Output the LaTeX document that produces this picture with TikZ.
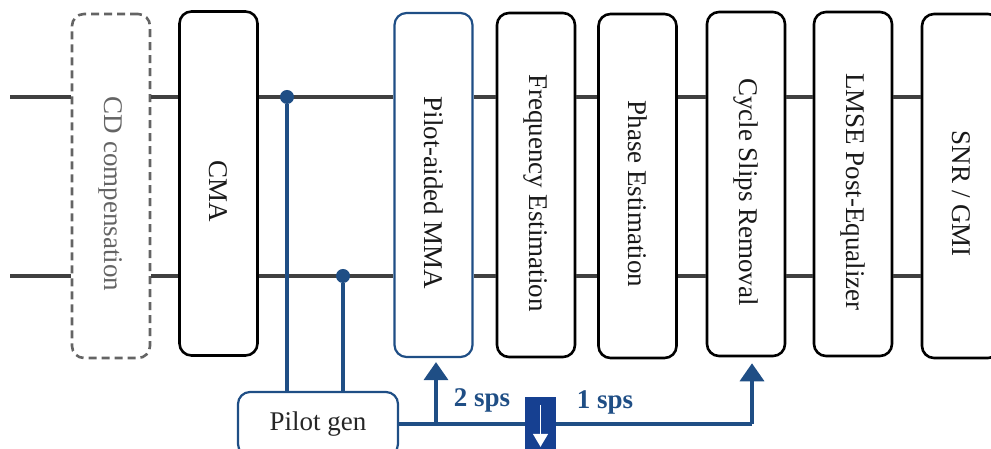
\documentclass[tikz,border=0pt]{standalone}
\usepackage{fontspec}
\setmainfont{Liberation Serif}
\usepackage{tikz}
\usetikzlibrary{arrows.meta,calc}
\definecolor{sigcol}{RGB}{64,64,64}
\definecolor{pilotcol}{RGB}{31,78,133}
\definecolor{dscol}{RGB}{22,64,145}
\definecolor{cdcol}{RGB}{100,100,100}
\tikzset{
    block/.style={draw=black,fill=white,line width=2.6pt,rounded corners=12pt,
        minimum width=78pt,minimum height=344pt,inner sep=0pt,text=black!90},
    dashblock/.style={block,draw=cdcol,dash pattern=on 8pt off 5pt,text=cdcol},
    mmablock/.style={block,draw=pilotcol,line width=2.2pt},
    pilotblock/.style={draw=pilotcol,fill=white,line width=2.2pt,rounded corners=12pt,
        minimum width=160pt,minimum height=64pt,text=black!85},
    sigline/.style={draw=sigcol,line width=4pt},
    pilotline/.style={draw=pilotcol,line width=3.6pt},
    pilotarrow/.style={pilotline,-{Triangle[length=18pt,width=24pt]}},
    tapdot/.style={circle,fill=pilotcol,inner sep=0pt,minimum size=14pt},
    dsbox/.style={fill=dscol,minimum width=31pt,minimum height=64pt,inner sep=0pt},
    dsarrow/.style={draw=white,line width=1.6pt,-{Triangle[length=13pt,width=15pt]}},
    rate/.style={text=pilotcol,font=\fontsize{27}{30}\selectfont\bfseries}
}
% vertical label, pushed a little below the block centre
\newcommand{\vtext}[1]{\rotatebox{-90}{\hspace{16pt}#1}}

\begin{document}
\begin{tikzpicture}[x=1pt,y=1pt,font=\fontsize{27}{30}\selectfont]
\useasboundingbox (0,0) rectangle (991,449);
\coordinate (top) at (0,352);
\coordinate (bot) at (0,173);
\coordinate (in1) at (10,352);
\coordinate (in2) at (10,173);

% DSP chain
\node[dashblock] (cd) at (111,263) {\vtext{CD compensation}};
\node[block] (cma) at (218.5,265.5) {\vtext{CMA}};
\node[mmablock] (mma) at (433.5,264) {\vtext{Pilot-aided MMA}};
\node[block] (freq) at (536,264) {\vtext{Frequency Estimation}};
\node[block] (phase) at (637.5,263) {\vtext{Phase Estimation}};
\node[block] (cycle) at (746,265) {\vtext{Cycle Slips Removal}};
\node[block] (lmse) at (853,265) {\vtext{LMSE Post-Equalizer}};
\node[block] (snr) at (961,263) {\vtext{SNR / GMI}};

% two polarisations
\draw[sigline] (in1) -- (cd.west |- top);
\draw[sigline] (in2) -- (cd.west |- bot);
\foreach \a/\b in {cd/cma,cma/mma,mma/freq,freq/phase,phase/cycle,cycle/lmse,lmse/snr}{
    \draw[sigline] (\a.east |- top) -- (\b.west |- top);
    \draw[sigline] (\a.east |- bot) -- (\b.west |- bot);
}

% pilot path
\node[pilotblock] (pilot) at (318,25) {Pilot gen};
\node[tapdot] (tap1) at (287,352) {};
\node[tapdot] (tap2) at (343,173) {};
\draw[pilotline] (tap1) -- (tap1 |- pilot.north);
\draw[pilotline] (tap2) -- (tap2 |- pilot.north);
\coordinate (br) at (436,25);
\coordinate (csr) at (752,25);
\draw[pilotline] (pilot.east) -- (csr);
\draw[pilotarrow] (br) -- ([yshift=-4pt]br |- mma.south);
\draw[pilotarrow] (csr) -- ([yshift=-6pt]csr |- cycle.south);
\node[rate] (r2) at (482,49) {2 sps};
\node[rate] (r1) at (605,47) {1 sps};

% downsampler
\node[dsbox] (ds) at (540.5,20) {};
\draw[dsarrow] ([yshift=-8pt]ds.north) -- ([yshift=-50pt]ds.north);
\end{tikzpicture}
\end{document}
